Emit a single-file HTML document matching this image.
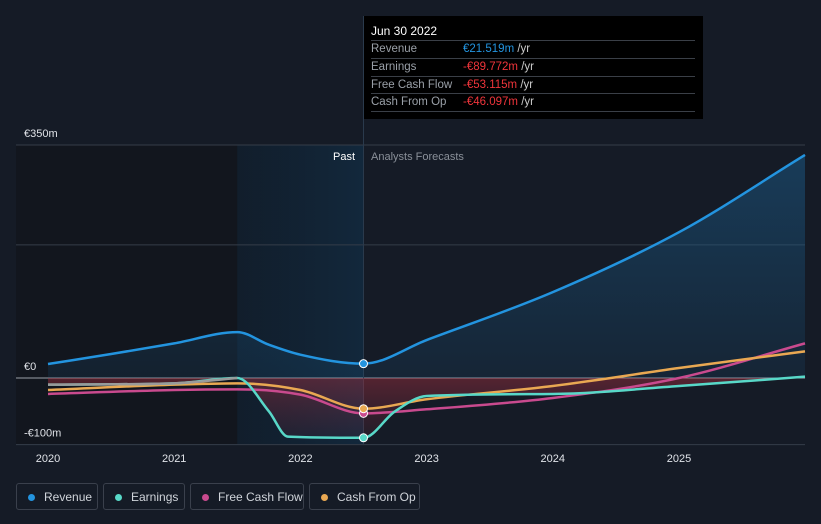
<!DOCTYPE html>
<html><head><meta charset="utf-8"><style>
body{margin:0;background:#151b26;font-family:"Liberation Sans",sans-serif;}
#wrap{position:relative;width:821px;height:524px;overflow:hidden;background:#151b26}
.tt{position:absolute;left:364px;top:16px;width:339px;height:103px;background:#000;color:#fff;font-size:11.5px}
.tt .row{position:absolute;left:7px;width:324px;border-top:1px solid #3a3f47;height:17px;line-height:17px;color:#9aa0a8}
.legend{position:absolute;top:483px;height:27px;border:1px solid #3a404c;border-radius:3px;color:#d0d4da;font-size:12px;line-height:27px;box-sizing:border-box;padding-left:27px}
.legend i{position:absolute;left:11px;top:10px;width:7px;height:7px;border-radius:50%}
</style></head><body>
<div id="wrap">
<svg id="svg" width="821" height="524" style="position:absolute;left:0;top:0"></svg>
<div class="tt">
<div style="position:absolute;left:7px;top:8px;font-size:12px">Jun 30 2022</div>
<div class="row" style="top:24px">Revenue<span style="position:absolute;left:92px;color:#2394df">€21.519m <span style="color:#ccc">/yr</span></span></div>
<div class="row" style="top:42px">Earnings<span style="position:absolute;left:92px;color:#f0353b">-€89.772m <span style="color:#ccc">/yr</span></span></div>
<div class="row" style="top:60px">Free Cash Flow<span style="position:absolute;left:92px;color:#f0353b">-€53.115m <span style="color:#ccc">/yr</span></span></div>
<div class="row" style="top:77px;border-bottom:1px solid #3a3f47">Cash From Op<span style="position:absolute;left:92px;color:#f0353b">-€46.097m <span style="color:#ccc">/yr</span></span></div>
</div>
<div class="legend" style="left:16px;width:82px"><i style="background:#2394df"></i>Revenue</div>
<div class="legend" style="left:103px;width:82px"><i style="background:#58d8c8"></i>Earnings</div>
<div class="legend" style="left:190px;width:114px"><i style="background:#c94a8e"></i>Free Cash Flow</div>
<div class="legend" style="left:309px;width:111px"><i style="background:#e9a852"></i>Cash From Op</div>
</div>
<script>
const yTicks=[350,0,-100];
const yTickLabels=["€350m","€0","-€100m"];
const xTicks=[2020,2021,2022,2023,2024,2025];
const revX=[2020,2020.5,2021,2021.5,2021.75,2022,2022.5,2023,2024,2025,2026];
const revY=[21,36,52,69,50,35,21.5,57,129,219,335];
const earnX=[2020,2021,2021.5,2021.75,2021.9,2022.5,2022.75,2023,2024,2025,2026];
const earnY=[-10,-8,0,-50,-88,-89.8,-50,-27,-24,-12,2];
const fcfX=[2020,2021,2021.5,2022,2022.5,2023,2024,2025,2026];
const fcfY=[-24,-18,-17,-25,-53.1,-47,-30,0,52];
const cfoX=[2020,2021,2021.5,2022,2022.5,2023,2024,2025,2026];
const cfoY=[-18,-10,-8,-18,-46.1,-32,-12,15,40];
const X=v=>48+(v-2020)*126.2, Y=v=>378-v*0.6657;
const svg=document.getElementById('svg');const NS='http://www.w3.org/2000/svg';
function el(t,a,p){const e=document.createElementNS(NS,t);for(const k in a)e.setAttribute(k,a[k]);(p||svg).appendChild(e);return e;}
const defs=el('defs',{});
defs.innerHTML='<linearGradient id="pg" x1="0" x2="1"><stop offset="0" stop-color="#0f2030" stop-opacity="0.6"/><stop offset="1" stop-color="#12283c"/></linearGradient><linearGradient id="rg" x1="0" y1="0" x2="0" y2="1"><stop offset="0" stop-color="#1b5d8c" stop-opacity="0.5"/><stop offset="1" stop-color="#1b5d8c" stop-opacity="0.15"/></linearGradient><linearGradient id="ng" x1="0" y1="0" x2="0" y2="1"><stop offset="0" stop-color="#b03040" stop-opacity="0.7"/><stop offset="1" stop-color="#8a2a40" stop-opacity="0.2"/></linearGradient>';
let r=el('rect',{x:16,y:145,width:X(2021.5)-16,height:299,fill:'#12161e'});
r=el('rect',{x:X(2021.5),y:145,width:X(2022.5)-X(2021.5),height:299,fill:'url(#pg)'});
yTicks.forEach((t,i)=>{const l=el('line',{x1:16,x2:805,y1:Y(t),y2:Y(t),stroke:t==0?'#9aa0a8':'#353c48','stroke-width':1});
const tx=el('text',{x:24,y:Y(t)-8,fill:'#e0e3e8','font-size':11});tx.textContent=yTickLabels[i];});
el('line',{x1:16,x2:805,y1:Y(200),y2:Y(200),stroke:'#353c48'});
xTicks.forEach(t=>{const tx=el('text',{x:X(t),y:462,fill:'#e0e3e8','font-size':11,'text-anchor':'middle'});tx.textContent=t;});
el('line',{x1:X(2022.5),x2:X(2022.5),y1:16,y2:444,stroke:'#2a3a4c'});
let t=el('text',{x:355,y:160,fill:'#fff','font-size':11,'text-anchor':'end'});t.textContent='Past';
t=el('text',{x:371,y:160,fill:'#8a9099','font-size':11});t.textContent='Analysts Forecasts';
function pts(xs,ys){return xs.map((x,i)=>[Math.min(X(x),805),Y(ys[i])]);}
function path(p){const n=p.length;const d=[],m=[];for(let i=0;i<n-1;i++)d.push((p[i+1][1]-p[i][1])/(p[i+1][0]-p[i][0]));
m[0]=d[0];m[n-1]=d[n-2];for(let i=1;i<n-1;i++)m[i]=(d[i-1]*d[i]<=0)?0:(d[i-1]+d[i])/2;
for(let i=0;i<n-1;i++){if(d[i]===0){m[i]=0;m[i+1]=0;continue;}const a=m[i]/d[i],b=m[i+1]/d[i],s=a*a+b*b;if(s>9){const tt=3/Math.sqrt(s);m[i]=tt*a*d[i];m[i+1]=tt*b*d[i];}}
let s='M'+p[0][0]+','+p[0][1];for(let i=0;i<n-1;i++){const h=(p[i+1][0]-p[i][0])/3;s+=`C${p[i][0]+h},${p[i][1]+m[i]*h} ${p[i+1][0]-h},${p[i+1][1]-m[i+1]*h} ${p[i+1][0]},${p[i+1][1]}`;}return s;}
const rp=pts(revX,revY),ep=pts(earnX,earnY),fp=pts(fcfX,fcfY),cp=pts(cfoX,cfoY);
let a=el('path',{d:path(rp)+`L805,378L48,378Z`,fill:'url(#rg)'});
a=el('path',{d:path(ep)+`L805,378L48,378Z`,fill:'url(#ng)',opacity:0.6});
[[rp,'#2394df','revenue-line'],[fp,'#c94a8e','fcf-line'],[cp,'#e9a852','cfo-line'],[ep,'#58d8c8','earnings-line']].forEach(([p,c,n])=>{const l=el('path',{d:path(p),fill:'none',stroke:c,'stroke-width':2.5});});
const g=el('path',{d:path(ep.slice(0,3)),fill:'none',stroke:'#9a9a9a','stroke-width':2.5});
[[revY,revX,'#2394df'],[fcfY,fcfX,'#c94a8e'],[cfoY,cfoX,'#e9a852'],[earnY,earnX,'#58d8c8']].forEach(([ys,xs,c])=>{const i=xs.indexOf(2022.5);const d=el('circle',{cx:X(2022.5),cy:Y(ys[i]),r:4,fill:c,stroke:'#fff','stroke-width':1});});
</script>
</body></html>
